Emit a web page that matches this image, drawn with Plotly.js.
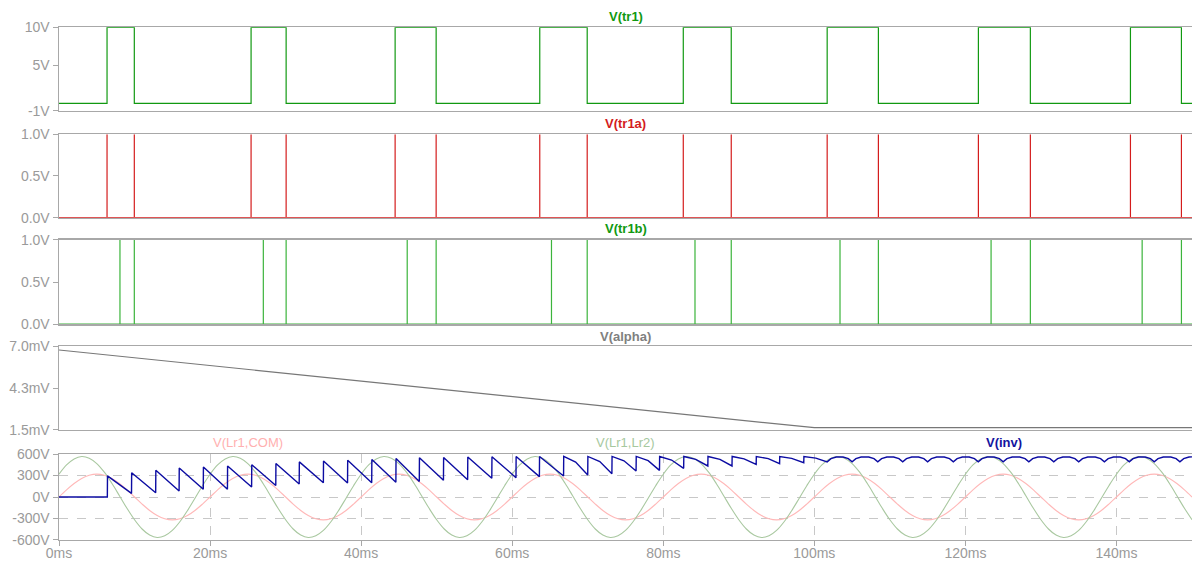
<!DOCTYPE html>
<html>
<head>
<meta charset="utf-8">
<script src="https://cdn.plot.ly/plotly-3.0.1.min.js"></script>
<style>html,body{margin:0;padding:0;background:#fff;}#chart{width:1193px;height:564px;}</style>
</head>
<body>
<div id="chart"></div>
<script>
// ---------------- data (time in ms) ----------------
const tr1Rise = [6.36, 25.43, 44.5, 63.65, 82.65, 101.7, 121.72, 141.85];
const tr1Fall = [9.97, 30.07, 49.93, 69.93, 89.0, 108.48, 128.6, 148.6];
const tr1Low = 0, tr1High = 10;

const tr1aSpikes = [6.36, 9.97, 25.43, 30.07, 44.5, 49.93, 63.65, 69.93, 82.65, 89.0, 101.7, 108.48, 121.72, 128.6, 141.85, 148.6];
const tr1bSpikes = [8.07, 9.97, 27.05, 30.07, 46.1, 49.93, 65.2, 69.93, 84.2, 89.0, 103.4, 108.48, 123.4, 128.6, 143.4, 148.6];

const alphaT = [0, 100, 150];
const alphaV = [6.74, 1.65, 1.65];   // mV

const sampleT = Array.from({length: 151}, (_, i) => i);  // 1 ms sampling grid
const lr1Lr2 = [
 318,447,532,565,542,467,346,191,18,-158,-318,-447,-532,-565,-542,-467,-346,-191,-18,158,
 318,447,532,565,542,467,346,191,18,-158,-318,-447,-532,-565,-542,-467,-346,-191,-18,158,
 318,447,532,565,542,467,346,191,18,-158,-318,-447,-532,-565,-542,-467,-346,-191,-18,158,
 318,447,532,565,542,467,346,191,18,-158,-318,-447,-532,-565,-542,-467,-346,-191,-18,158,
 318,447,532,565,542,467,346,191,18,-158,-318,-447,-532,-565,-542,-467,-346,-191,-18,158,
 318,447,532,565,542,467,346,191,18,-158,-318,-447,-532,-565,-542,-467,-346,-191,-18,158,
 318,447,532,565,542,467,346,191,18,-158,-318,-447,-532,-565,-542,-467,-346,-191,-18,158,
 318,447,532,565,542,467,346,191,18,-158,-318];
const lr1Com = [
 0,99,188,259,304,320,304,259,188,99,0,-99,-188,-259,-304,-320,-304,-259,-188,-99,
 0,99,188,259,304,320,304,259,188,99,0,-99,-188,-259,-304,-320,-304,-259,-188,-99,
 0,99,188,259,304,320,304,259,188,99,0,-99,-188,-259,-304,-320,-304,-259,-188,-99,
 0,99,188,259,304,320,304,259,188,99,0,-99,-188,-259,-304,-320,-304,-259,-188,-99,
 0,99,188,259,304,320,304,259,188,99,0,-99,-188,-259,-304,-320,-304,-259,-188,-99,
 0,99,188,259,304,320,304,259,188,99,0,-99,-188,-259,-304,-320,-304,-259,-188,-99,
 0,99,188,259,304,320,304,259,188,99,0,-99,-188,-259,-304,-320,-304,-259,-188,-99,
 0,99,188,259,304,320,304,259,188,99,0];

const invT = [0, 6.4, 6.42, 9.6, 9.62, 12.8, 12.82, 15.9, 15.92, 19.1, 19.12, 22.3, 22.32,
 25.5, 25.52, 28.7, 28.72, 31.8, 31.82, 35.0, 35.02, 38.2, 38.22, 41.4, 41.42, 44.6, 44.62,
 47.7, 47.72, 50.9, 50.92, 54.1, 54.12, 57.3, 57.32, 60.5, 60.52, 63.6, 63.62,
 66.8, 66.82, 68.4, 70.0, 70.02, 71.6, 73.2, 73.22, 74.8, 76.4, 76.42, 78.0, 79.5, 79.52, 81.1,
 82.7, 82.72, 84.3, 85.9, 85.92, 87.5, 89.1, 89.12, 90.7, 92.3, 92.32, 93.9, 95.4, 95.42, 97.0,
 98.6, 98.62, 100.2,
 101.7, 102.2, 102.9, 103.8, 104.5,
 105.0, 105.5, 106.2, 107.2, 107.9,
 108.4, 108.9, 109.6, 110.5, 111.2,
 111.7, 112.2, 112.9, 113.8, 114.5,
 115.0, 115.5, 116.2, 117.2, 117.9,
 118.4, 118.9, 119.6, 120.5, 121.2,
 121.7, 122.2, 122.9, 123.8, 124.5,
 125.0, 125.5, 126.2, 127.2, 127.9,
 128.4, 128.9, 129.6, 130.5, 131.2,
 131.7, 132.2, 132.9, 133.8, 134.5,
 135.0, 135.5, 136.2, 137.2, 137.9,
 138.4, 138.9, 139.6, 140.5, 141.2,
 141.7, 142.2, 142.9, 143.8, 144.5,
 145.0, 145.5, 146.2, 147.2, 147.9,
 148.4, 148.9, 149.6, 150.0];
const invV = [0, 0, 295, 50, 339, 60, 372, 85, 405, 107, 419, 107, 433,
 140, 450, 160, 468, 180, 490, 200, 502, 195, 512, 200, 525, 205, 537,
 215, 548, 233, 552, 240, 558, 261, 563, 270, 565, 284, 566,
 293, 566, 488, 307, 566, 494, 326, 566, 505, 363, 566, 508, 372, 566, 516,
 400, 566, 526, 433, 566, 526, 433, 566, 533, 456, 566, 536, 465, 566, 540,
 479, 566, 543,
 490, 535, 558, 558, 535,
 490, 535, 558, 558, 535,
 490, 535, 558, 558, 535,
 490, 535, 558, 558, 535,
 490, 535, 558, 558, 535,
 490, 535, 558, 558, 535,
 490, 535, 558, 558, 535,
 490, 535, 558, 558, 535,
 490, 535, 558, 558, 535,
 490, 535, 558, 558, 535,
 490, 535, 558, 558, 535,
 490, 535, 558, 558, 535,
 490, 535, 558, 558, 535,
 490, 535, 558, 558, 535,
 490, 535, 558, 560];

const tickVals1 = [10, 5, -1], tickText1 = ['10V', '5V', '-1V'];
const tickVals2 = [1, 0.5, 0], tickText2 = ['1.0V', '0.5V', '0.0V'];
const tickVals4 = [7.0, 4.25, 1.5], tickText4 = ['7.0mV', '4.3mV', '1.5mV'];
const tickVals5 = [600, 300, 0, -300, -600], tickText5 = ['600V', '300V', '0V', '-300V', '-600V'];
const xTicks = [0, 20, 40, 60, 80, 100, 120, 140];
const xTickText = ['0ms', '20ms', '40ms', '60ms', '80ms', '100ms', '120ms', '140ms'];

// ---------------- build traces ----------------
function pulseTrain(rises, falls, lo, hi) {
  const x = [0], y = [lo];
  for (let i = 0; i < rises.length; i++) {
    x.push(rises[i], rises[i], falls[i], falls[i]);
    y.push(lo, hi, hi, lo);
  }
  x.push(150); y.push(lo);
  return {x, y};
}
function spikes(times) {
  const x = [0], y = [0];
  times.forEach(t => { x.push(t, t, t); y.push(0, 1, 0); });
  x.push(150); y.push(0);
  return {x, y};
}
const p1 = pulseTrain(tr1Rise, tr1Fall, tr1Low, tr1High);
const s2 = spikes(tr1aSpikes);
const s3 = spikes(tr1bSpikes);

const traces = [
  {x: p1.x, y: p1.y, xaxis: 'x2', yaxis: 'y', mode: 'lines', line: {color: '#119911', width: 1.2}},
  {x: s2.x, y: s2.y, xaxis: 'x3', yaxis: 'y2', mode: 'lines', line: {color: '#d41c1c', width: 1.2}},
  {x: s3.x, y: s3.y, xaxis: 'x4', yaxis: 'y3', mode: 'lines', line: {color: '#3cb43c', width: 1.2}},
  {x: alphaT, y: alphaV, xaxis: 'x5', yaxis: 'y4', mode: 'lines', line: {color: '#777777', width: 1.2}},
  {x: sampleT, y: lr1Com, xaxis: 'x', yaxis: 'y5', mode: 'lines', line: {color: '#ffb8b8', width: 1.1, shape: 'spline'}},
  {x: sampleT, y: lr1Lr2, xaxis: 'x', yaxis: 'y5', mode: 'lines', line: {color: '#a9c8a0', width: 1.1, shape: 'spline'}},
  {x: invT, y: invV, xaxis: 'x', yaxis: 'y5', mode: 'lines', line: {color: '#0c0ca2', width: 1.4}}
];

// ---------------- layout ----------------
const AXC = '#a8a8a8';
const tickFont = {family: 'Liberation Sans, Arial, sans-serif', size: 14, color: '#9a9a9a'};
function yax(domain, range, vals, text, anchor, grid) {
  return {domain, range, tickvals: vals, ticktext: text, anchor,
    showline: true, linecolor: AXC, linewidth: 1.5, ticks: 'outside', ticklen: 5, tickcolor: AXC,
    tickfont: tickFont, zeroline: false, showgrid: !!grid, gridcolor: '#c8c8c8', griddash: 'dash', gridwidth: 1,
    fixedrange: true};
}
function xsub(anchor) {
  return {matches: 'x', anchor, range: [0, 150], showticklabels: false, ticks: '', showgrid: false,
    zeroline: false, showline: true, mirror: true, linecolor: AXC, linewidth: 1.5};
}
const layout = {
  width: 1193, height: 564,
  margin: {l: 59, r: 1, t: 0, b: 0},
  paper_bgcolor: '#ffffff', plot_bgcolor: '#ffffff',
  showlegend: false,
  xaxis: {anchor: 'y5', domain: [0, 1], range: [0, 150], tickvals: xTicks, ticktext: xTickText,
    ticks: 'outside', ticklen: 5, tickcolor: AXC, tickfont: tickFont, ticklabelstandoff: -5,
    showline: true, mirror: true, linecolor: AXC, linewidth: 1.5, zeroline: false,
    showgrid: true, gridcolor: '#c8c8c8', griddash: 'dash', gridwidth: 1},
  xaxis2: xsub('y'),
  xaxis3: xsub('y2'),
  xaxis4: xsub('y3'),
  xaxis5: xsub('y4'),
  yaxis:  yax([0.8032, 0.9516], [-1, 10], tickVals1, tickText1, 'x2'),
  yaxis2: yax([0.6140, 0.7619], [0, 1], tickVals2, tickText2, 'x3'),
  yaxis3: yax([0.4255, 0.5745], [0, 1], tickVals2, tickText2, 'x4'),
  yaxis4: yax([0.2376, 0.3865], [1.5, 7.0], tickVals4, tickText4, 'x5'),
  yaxis5: yax([0.0426, 0.1950], [-600, 600], tickVals5, tickText5, 'x', true),
  annotations: [
    {text: '<b>V(tr1)</b>', x: 0.5, y: 0.971, color: '#119911'},
    {text: '<b>V(tr1a)</b>', x: 0.5, y: 0.781, color: '#d41c1c'},
    {text: '<b>V(tr1b)</b>', x: 0.5, y: 0.594, color: '#119911'},
    {text: '<b>V(alpha)</b>', x: 0.5, y: 0.404, color: '#808080'},
    {text: 'V(Lr1,COM)', x: 0.1668, y: 0.215, color: '#ffb0b0'},
    {text: 'V(Lr1,Lr2)', x: 0.4996, y: 0.215, color: '#a6c89e'},
    {text: '<b>V(inv)</b>', x: 0.834, y: 0.215, color: '#1414a0'}
  ].map(a => ({text: a.text, x: a.x, y: a.y, xref: 'paper', yref: 'paper', showarrow: false,
    xanchor: 'center', yanchor: 'middle',
    font: {family: 'Liberation Sans, Arial, sans-serif', size: 13, color: a.color}}))
};

Plotly.newPlot('chart', traces, layout, {displayModeBar: false, staticPlot: true});
</script>
</body>
</html>
